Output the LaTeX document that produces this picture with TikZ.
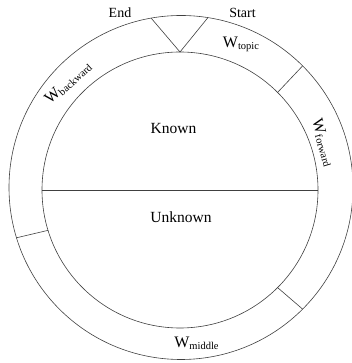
\documentclass[tikz,border=0pt]{standalone}
\usepackage{fontspec}
\setmainfont{Liberation Serif}
\newcommand\wlab[1]{{\fontsize{16}{16}\selectfont W}\raisebox{-1.5pt}{\fontsize{10.5}{10.5}\selectfont #1}}
\begin{document}
\begin{tikzpicture}[x=1pt,y=1pt,
  ring/.style={circle,draw=black!75,line width=0.6pt,inner sep=0pt,outer sep=0pt},
  conn/.style={draw=black!75,line width=0.6pt},
  big/.style={font=\fontsize{15.5}{15.5}\selectfont,inner sep=0pt,anchor=base},
  tag/.style={font=\fontsize{14}{14}\selectfont,inner sep=0pt,anchor=base},
  wl/.style={inner sep=0pt}]
\useasboundingbox (0,0) rectangle (352,363);
\node[ring,minimum size=344pt] (outer) at (181,175.5) {};
\node[ring,minimum size=276pt] (inner) at (180,173) {};
% dividing line
\draw[conn] (inner.west) -- (inner.east);
% V at top
\draw[conn] (outer.100) -- (inner.90) -- (outer.81.7);
% radial separators
\draw[conn] (inner.45) -- (outer.45);
\draw[conn] (inner.-45) -- (outer.-45);
\draw[conn] (inner.197) -- (outer.197);
% labels
\node[tag] (endl) at (120,345) {End};
\node[tag] (startl) at (242.5,345) {Start};
\node[big] (known) at (173.5,229) {Known};
\node[big] (unknown) at (181,140) {Unknown};
\node[wl,anchor=base] (wtopic) at (241,315) {\wlab{topic}};
\node[wl,anchor=base] (wmiddle) at (196.5,15) {\wlab{middle}};
\node[wl,rotate=42] (wback) at (68,280) {\wlab{backward}};
\node[wl,rotate=-74] (wfwd) at (323,220) {\wlab{forward}};
\end{tikzpicture}
\end{document}
